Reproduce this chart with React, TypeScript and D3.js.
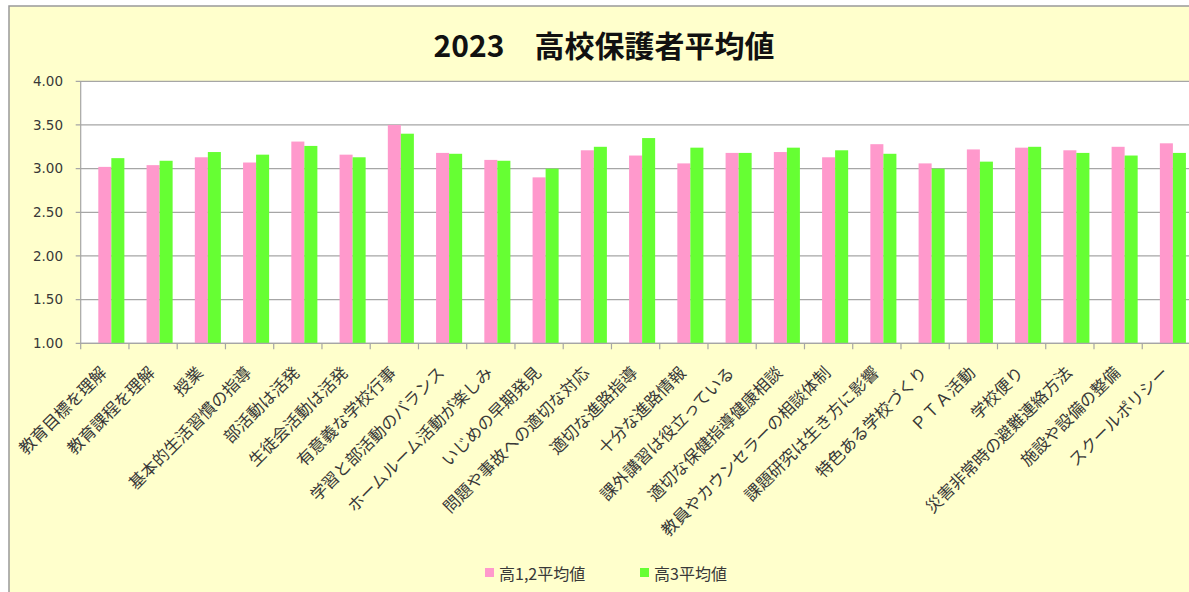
import React from 'react'
import * as d3 from 'd3'

const categories = [
  '教育目標を理解',
  '教育課程を理解',
  '授業',
  '基本的生活習慣の指導',
  '部活動は活発',
  '生徒会活動は活発',
  '有意義な学校行事',
  '学習と部活動のバランス',
  'ホームルーム活動が楽しみ',
  'いじめの早期発見',
  '問題や事故への適切な対応',
  '適切な進路指導',
  '十分な進路情報',
  '課外講習は役立っている',
  '適切な保健指導健康相談',
  '教員やカウンセラーの相談体制',
  '課題研究は生き方に影響',
  '特色ある学校づくり',
  'ＰＴＡ活動',
  '学校便り',
  '災害非常時の避難連絡方法',
  '施設や設備の整備',
  'スクールポリシー'
]

const grade12 = [
  3.02, 3.04, 3.13, 3.07, 3.31, 3.16, 3.5, 3.18, 3.1, 2.9, 3.21, 3.15, 3.06,
  3.18, 3.19, 3.13, 3.28, 3.06, 3.22, 3.24, 3.21, 3.25, 3.29
]
const grade3 = [
  3.12, 3.09, 3.19, 3.16, 3.26, 3.13, 3.4, 3.17, 3.09, 3.0, 3.25, 3.35, 3.24,
  3.18, 3.24, 3.21, 3.17, 3.0, 3.08, 3.25, 3.18, 3.15, 3.18
]

const yTicks = [1, 1.5, 2, 2.5, 3, 3.5, 4]

const seriesNames = ['高1,2平均値', '高3平均値']
const colors = ['#ff99cc', '#66ff33']

const W = 1189
const H = 592

const App = () => {
  const plot = { left: 80.7, right: 1190.5, top: 81.3, bottom: 343.3 }

  //D3 mathy bits
  const x = d3
    .scaleBand()
    .domain(categories)
    .range([plot.left, plot.right])
    .paddingInner(0.19)
    .paddingOuter(0.095)
  // excel leaves an empty slot in front of the two series
  const slot = d3.scaleBand().domain(['empty', 'g12', 'g3']).range([0, x.bandwidth()])
  const y = d3.scaleLinear().domain([1, 4]).range([plot.bottom, plot.top])
  const fmt = d3.format('.2f')

  const gap = (x.step() - x.bandwidth()) / 2
  const bounds = categories.map((c) => x(c) - gap).concat([plot.right])

  const series = [
    { key: 'g12', values: grade12 },
    { key: 'g3', values: grade3 }
  ]

  const textColor = '#383838'
  const gridColor = '#a6a6a6'

  return (
    <svg
      width={W}
      height={H}
      style={{ position: 'absolute', left: 0, top: 0, background: '#fff' }}
    >
      <rect x={9} y={6} width={W} height={H} fill="#ffffcc" stroke="#999" strokeWidth={1.5} />
      <rect
        x={plot.left}
        y={plot.top}
        width={plot.right - plot.left}
        height={plot.bottom - plot.top}
        fill="#fff"
      />

      <text
        x={604}
        y={57}
        textAnchor="middle"
        fontFamily="'Noto Sans CJK JP', sans-serif"
        fontWeight="bold"
        fontSize={30}
        fill="#111"
      >
        2023　高校保護者平均値
      </text>

      {yTicks.map((t) => (
        <g key={t}>
          <line x1={plot.left - 5} x2={plot.right} y1={y(t)} y2={y(t)} stroke={gridColor} strokeWidth={1.2} />
          <text
            x={63}
            y={y(t)}
            dy="0.35em"
            textAnchor="end"
            fontFamily="'DejaVu Sans', sans-serif"
            fontSize={13.5}
            fill={textColor}
          >
            {fmt(t)}
          </text>
        </g>
      ))}

      {series.map((s, si) =>
        s.values.map((v, i) => (
          <rect
            key={s.key + i}
            x={x(categories[i]) + slot(s.key)}
            y={y(v)}
            width={slot.bandwidth()}
            height={y(1) - y(v)}
            fill={colors[si]}
          />
        ))
      )}

      <line x1={plot.left} x2={plot.left} y1={plot.top} y2={plot.bottom} stroke={gridColor} strokeWidth={1.2} />
      <line x1={plot.left} x2={plot.right} y1={plot.bottom} y2={plot.bottom} stroke={gridColor} strokeWidth={1.2} />
      {bounds.map((b, i) => (
        <line key={i} x1={b} x2={b} y1={plot.bottom} y2={plot.bottom + 6} stroke={gridColor} strokeWidth={1.2} />
      ))}

      {categories.map((c) => {
        const cx = x(c) + x.bandwidth() / 2 - 2
        const cy = 369
        return (
          <text
            key={c}
            transform={`translate(${cx},${cy}) rotate(-45)`}
            textAnchor="end"
            dominantBaseline="central"
            fontFamily="'Noto Sans CJK JP', sans-serif"
            fontSize={16.5}
            fill={textColor}
          >
            {c}
          </text>
        )
      })}

      {seriesNames.map((name, i) => {
        const lx = 485 + i * 155
        return (
          <g key={name}>
            <rect x={lx} y={568} width={9} height={9} fill={colors[i]} />
            <text
              x={lx + 14}
              y={573}
              dominantBaseline="central"
              fontFamily="'Noto Sans CJK JP', sans-serif"
              fontSize={16}
              fill={textColor}
            >
              {name}
            </text>
          </g>
        )
      })}
    </svg>
  )
}

export default App
